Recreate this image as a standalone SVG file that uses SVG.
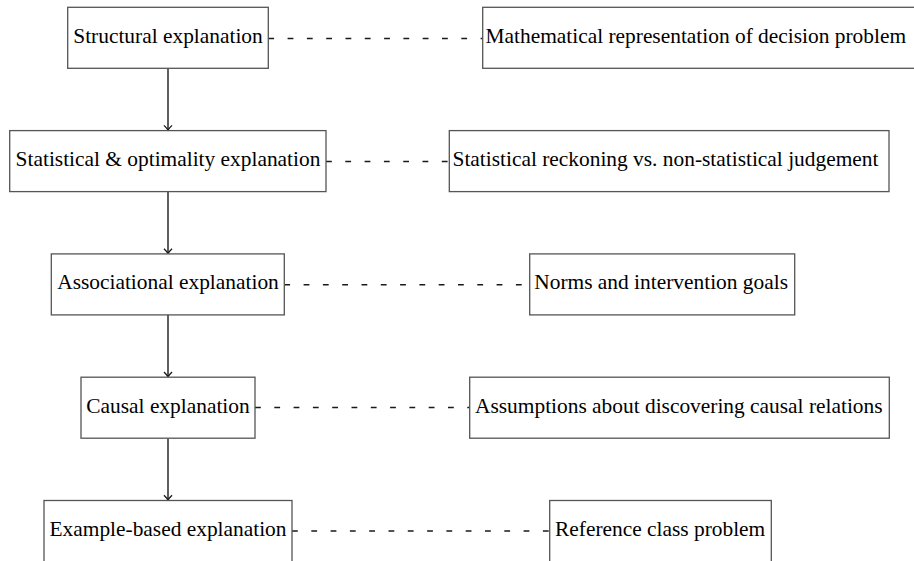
<svg xmlns="http://www.w3.org/2000/svg" width="914" height="561" viewBox="0 0 914 561">
  <style>
    .box { fill: #ffffff; stroke: #555555; stroke-width: 1.3; }
    .lbl { font-family: "Liberation Serif", "Times New Roman", serif; font-size: 21.4px; fill: #000000; }
    .mid { text-anchor: middle; }
    .arrow { stroke: #1a1a1a; stroke-width: 1.4; fill: none; }
    .dash { stroke: #1a1a1a; stroke-width: 1.5; fill: none; stroke-dasharray: 5.8 13.5; }
  </style>
  <defs>
    <marker id="tip" markerUnits="userSpaceOnUse" viewBox="-6 -6 12 12" markerWidth="12" markerHeight="12" refX="0" refY="0" orient="auto">
      <path d="M -4.6,-4 Q -1.5,-1 0,0 Q -1.5,1 -4.6,4" fill="none" stroke="#1a1a1a" stroke-width="1.3"/>
    </marker>
  </defs>
  <rect width="914" height="561" fill="#ffffff"/>

  <g id="connectors">
    <line class="arrow" x1="168" y1="68.3" x2="168" y2="130" marker-end="url(#tip)"/>
    <line class="arrow" x1="168" y1="191.6" x2="168" y2="253.3" marker-end="url(#tip)"/>
    <line class="arrow" x1="168" y1="314.9" x2="168" y2="376.6" marker-end="url(#tip)"/>
    <line class="arrow" x1="168" y1="438.2" x2="168" y2="499.9" marker-end="url(#tip)"/>

    <line class="dash" x1="268.3" y1="38.5" x2="482.7" y2="38.5"/>
    <line class="dash" x1="326" y1="161.6" x2="449.3" y2="161.6"/>
    <line class="dash" x1="284.3" y1="284.7" x2="529.7" y2="284.7"/>
    <line class="dash" x1="255" y1="407.5" x2="469.7" y2="407.5"/>
    <line class="dash" x1="292" y1="531" x2="549.7" y2="531"/>
  </g>

  <g id="structural">
    <rect class="box" x="67.7" y="7.3" width="200.6" height="61"/>
    <text class="lbl mid" x="168" y="42.7">Structural explanation</text>
  </g>
  <g id="statistical">
    <rect class="box" x="9.7" y="130.6" width="316.3" height="61"/>
    <text class="lbl mid" x="168" y="166">Statistical &amp; optimality explanation</text>
  </g>
  <g id="associational">
    <rect class="box" x="51.3" y="253.9" width="233" height="61"/>
    <text class="lbl mid" x="168" y="289.3">Associational explanation</text>
  </g>
  <g id="causal">
    <rect class="box" x="81" y="377.2" width="174" height="61"/>
    <text class="lbl mid" x="168" y="412.6">Causal explanation</text>
  </g>
  <g id="example">
    <rect class="box" x="44" y="500.5" width="248" height="80"/>
    <text class="lbl mid" x="168" y="535.9">Example-based explanation</text>
  </g>

  <g id="mathematical">
    <rect class="box" x="482.7" y="7.3" width="440" height="61"/>
    <text class="lbl" x="485.5" y="42.7">Mathematical representation of decision problem</text>
  </g>
  <g id="reckoning">
    <rect class="box" x="449.3" y="130.6" width="439.7" height="61"/>
    <text class="lbl" x="452.5" y="166">Statistical reckoning vs. non-statistical judgement</text>
  </g>
  <g id="norms">
    <rect class="box" x="529.7" y="253.9" width="265" height="61"/>
    <text class="lbl" x="534.3" y="289.3">Norms and intervention goals</text>
  </g>
  <g id="assumptions">
    <rect class="box" x="469.7" y="377.2" width="419.6" height="61"/>
    <text class="lbl" x="475" y="412.6">Assumptions about discovering causal relations</text>
  </g>
  <g id="reference">
    <rect class="box" x="549.7" y="500.5" width="221.6" height="80"/>
    <text class="lbl" x="555" y="535.9">Reference class problem</text>
  </g>
</svg>
